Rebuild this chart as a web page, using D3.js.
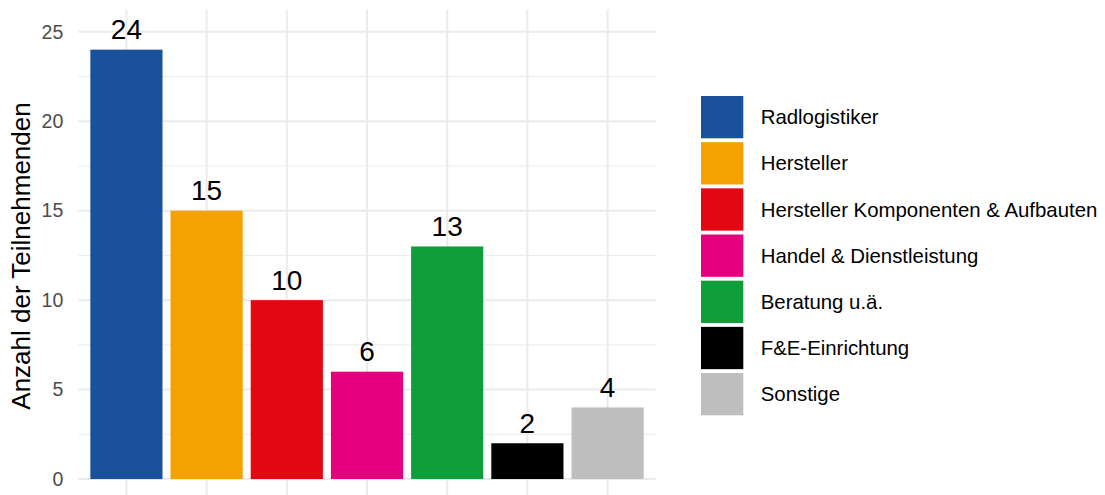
<!DOCTYPE html>
<html>
<head>
<meta charset="utf-8">
<script src="https://cdn.jsdelivr.net/npm/d3@7"></script>
<style>
  html, body { margin: 0; padding: 0; background: #ffffff; }
  svg { display: block; font-family: "Liberation Sans", Arial, sans-serif; }
</style>
</head>
<body>
<svg id="chart" width="1105" height="495"></svg>
<script>
// Teilnehmende nach Organisationstyp
const categories = [
  "Radlogistiker",
  "Hersteller",
  "Hersteller Komponenten & Aufbauten",
  "Handel & Dienstleistung",
  "Beratung u.ä.",
  "F&E-Einrichtung",
  "Sonstige"
];
const counts = [24, 15, 10, 6, 13, 2, 4];
const colors = ["#1A519C", "#F5A100", "#E30613", "#E5007D", "#109E3A", "#000000", "#BEBEBE"];
const yTicks = [0, 5, 10, 15, 20, 25];
const yMinorTicks = [2.5, 7.5, 12.5, 17.5, 22.5];
const yTitle = "Anzahl der Teilnehmenden";

const svg = d3.select("#chart");

// Panel extents (y domain carries the 5% padding around 0..25)
const panel = { left: 78.3, right: 655.7, top: 9.4, bottom: 501.4 };

const x = d3.scaleBand()
  .domain(categories)
  .range([panel.left, panel.right])
  .paddingInner(0.1)
  .paddingOuter(0.15);

const y = d3.scaleLinear()
  .domain([-1.25, 26.25])
  .range([panel.bottom, panel.top]);

const grid = svg.append("g");

// minor horizontal grid
grid.selectAll("line.minor")
  .data(yMinorTicks)
  .join("line")
  .attr("class", "minor")
  .attr("x1", panel.left).attr("x2", panel.right)
  .attr("y1", d => y(d)).attr("y2", d => y(d))
  .attr("stroke", "#ebebeb").attr("stroke-width", 1);

// major horizontal grid
grid.selectAll("line.major")
  .data(yTicks)
  .join("line")
  .attr("class", "major")
  .attr("x1", panel.left).attr("x2", panel.right)
  .attr("y1", d => y(d)).attr("y2", d => y(d))
  .attr("stroke", "#ebebeb").attr("stroke-width", 2);

// vertical grid at category centres
grid.selectAll("line.vmajor")
  .data(categories)
  .join("line")
  .attr("class", "vmajor")
  .attr("x1", d => x(d) + x.bandwidth() / 2).attr("x2", d => x(d) + x.bandwidth() / 2)
  .attr("y1", panel.top).attr("y2", panel.bottom)
  .attr("stroke", "#ebebeb").attr("stroke-width", 2);

// y axis labels
const yAxis = svg.append("g")
  .attr("transform", `translate(${panel.left},0)`)
  .call(d3.axisLeft(y).tickValues(yTicks).tickSize(0).tickPadding(15));
yAxis.select(".domain").remove();
yAxis.selectAll("text")
  .attr("font-family", "'Liberation Sans', Arial, sans-serif")
  .attr("font-size", "19.5px")
  .attr("fill", "#4d4d4d");

// y axis title
svg.append("text")
  .attr("transform", `translate(29.5, 256) rotate(-90)`)
  .attr("text-anchor", "middle")
  .attr("font-size", "26px")
  .attr("fill", "#000000")
  .text(yTitle);

// bars
svg.append("g").selectAll("rect")
  .data(categories)
  .join("rect")
  .attr("x", d => x(d))
  .attr("width", x.bandwidth())
  .attr("y", (d, i) => y(counts[i]))
  .attr("height", (d, i) => y(0) - y(counts[i]))
  .attr("fill", (d, i) => colors[i]);

// value labels
svg.append("g").selectAll("text")
  .data(categories)
  .join("text")
  .attr("x", d => x(d) + x.bandwidth() / 2)
  .attr("y", (d, i) => y(counts[i]) - 10.5)
  .attr("text-anchor", "middle")
  .attr("font-size", "28px")
  .attr("fill", "#000000")
  .text((d, i) => counts[i]);

// legend
const legend = svg.append("g").attr("transform", "translate(701, 96)");
const keySize = 42.3, keyStep = 46.17;
const item = legend.selectAll("g")
  .data(categories)
  .join("g")
  .attr("transform", (d, i) => `translate(0, ${i * keyStep})`);
item.append("rect")
  .attr("width", keySize).attr("height", keySize)
  .attr("fill", (d, i) => colors[i]);
item.append("text")
  .attr("x", 59.7)
  .attr("y", keySize / 2)
  .attr("dy", "0.35em")
  .attr("font-size", "20.4px")
  .attr("fill", "#000000")
  .text(d => d);
</script>
</body>
</html>
